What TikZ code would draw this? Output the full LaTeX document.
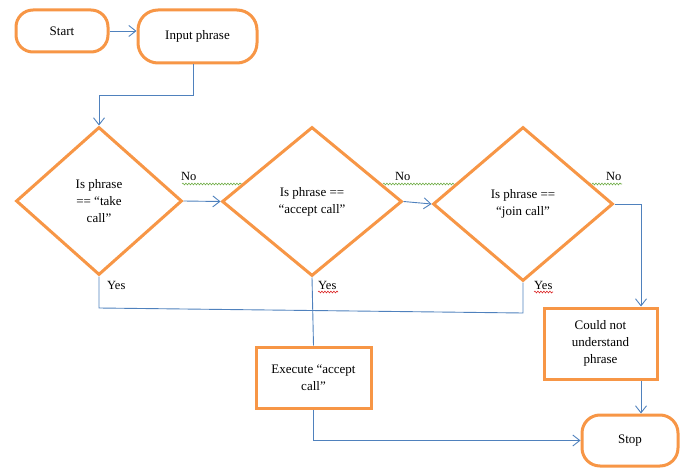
\documentclass[tikz,border=0pt]{standalone}
\usepackage{fontspec}
\setmainfont{Liberation Serif}
\usetikzlibrary{arrows.meta,shapes.geometric,decorations.pathmorphing,calc}
\definecolor{orng}{RGB}{247,150,70}
\definecolor{lblue}{RGB}{79,129,189}
\definecolor{sqgreen}{RGB}{112,173,71}
\definecolor{sqred}{RGB}{220,40,40}
\begin{document}
\begin{tikzpicture}[x=1pt,y=-1pt,
  every node/.style={font=\fontsize{13}{17}\selectfont, align=center},
  term/.style={draw=orng, line width=3pt, fill=white, rounded corners=17pt, inner sep=2pt},
  procbox/.style={draw=orng, line width=3pt, fill=white, inner sep=2pt},
  decision/.style={draw=orng, line width=3pt, fill=white, diamond, inner sep=0pt},
  conn/.style={draw=lblue, line width=0.9pt},
  arr/.style={conn, -{Straight Barb[length=7pt,width=11pt]}},
  lbl/.style={font=\fontsize{12.5}{15}\selectfont, inner sep=0pt},
  sq/.style={line width=0.6pt, decorate, decoration={snake, amplitude=0.9pt, segment length=3pt}}
]
\useasboundingbox (0,0) rectangle (683,468);

% squiggles (behind shapes)
\draw[sq, sqgreen] (182,184) -- (242,184);
\draw[sq, sqgreen] (383,184) -- (456,184);
\draw[sq, sqgreen] (589,184) -- (622,184);
\draw[sq, sqred] (318,292) -- (338,292);
\draw[sq, sqred] (534,292) -- (553,292);

\node[term, minimum width=92pt, minimum height=42pt] (start) at (62,31) {Start};
\node[term, minimum width=119pt, minimum height=53pt, rounded corners=20pt] (input) at (197.5,36.5) {Input phrase};

\node[decision, minimum width=166pt, minimum height=148pt] (d1) at (99,201) {Is phrase\\== “take\\call”};
\node[decision, minimum width=180pt, minimum height=149pt] (d2) at (312,201.5) {Is phrase ==\\“accept call”};
\node[decision, minimum width=180pt, minimum height=154pt] (d3) at (523,204) {Is phrase ==\\“join call”};

\node[procbox, minimum width=115pt, minimum height=61pt] (exec) at (313.5,377.5) {Execute “accept\\call”};
\node[procbox, minimum width=113pt, minimum height=71pt] (could) at (600.5,343.5) {Could not\\understand\\phrase};
\node[term, minimum width=96pt, minimum height=51pt, rounded corners=18pt] (stop) at (630,440.5) {Stop};

\coordinate (k1) at (193,95);
\coordinate (cx) at (641,0);
\coordinate (y1) at (99,308);
\coordinate (y3) at (523,313);

\draw[arr] (start.east) -- (start.east -| input.west);
\draw[arr] (input.south -| k1) -- (k1) -| (d1.north);
\draw[arr] (d1.east) -- (d2.west);
\draw[arr] (d2.east) -- (d3.west);
\draw[arr] (d3.east) -| (could.north -| cx);
\draw[arr] (could.south -| cx) -- (stop.north -| cx);
\draw[conn] (d1.south) -- (y1) -- (y3) -- (d3.south);
\draw[conn] (d2.south) -- (exec.north);
\draw[arr] (exec.south) |- (stop.west);

\node[lbl, anchor=base west] (no1) at (181,181) {No};
\node[lbl, anchor=base west] (no2) at (395,181) {No};
\node[lbl, anchor=base west] (no3) at (606,181) {No};
\node[lbl, anchor=base west] (yes1) at (107,289) {Yes};
\node[lbl, anchor=base west] (yes2) at (318,289) {Yes};
\node[lbl, anchor=base west] (yes3) at (534,289) {Yes};
\end{tikzpicture}
\end{document}
